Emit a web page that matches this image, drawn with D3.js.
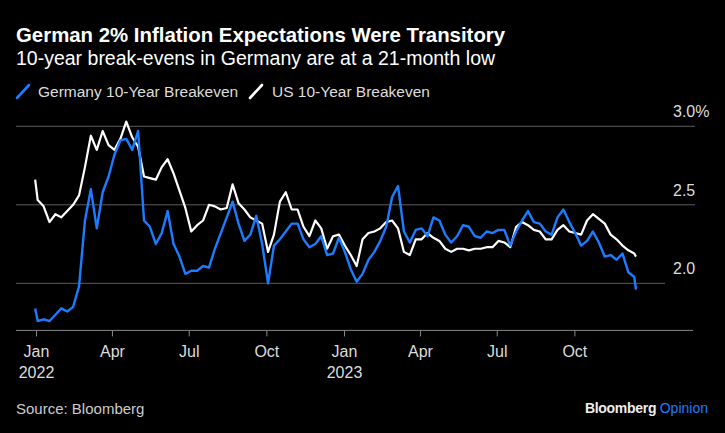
<!DOCTYPE html>
<html lang="en">
<head>
<meta charset="utf-8">
<title>German 2% Inflation Expectations Were Transitory</title>
<script src="https://cdn.jsdelivr.net/npm/d3@7"></script>
<style>
	html, body { margin: 0; padding: 0; background: #000; }
	svg { display: block; font-family: "Liberation Sans", Arial, sans-serif; }
</style>
</head>
<body>
<script>

// first and last trading days, weekly Mondays in between
var firstDay = "2021-12-31";
var lastDay = "2023-12-13";

var germany = [1.84, 1.76, 1.77, 1.76, 1.80, 1.84, 1.82, 1.85, 1.98, 2.40,
	2.60, 2.35, 2.58, 2.68, 2.82, 2.91, 2.92, 2.85, 2.97, 2.40,
	2.36, 2.25, 2.32, 2.46, 2.25, 2.17, 2.06, 2.08, 2.08, 2.11,
	2.10, 2.22, 2.32, 2.42, 2.52, 2.38, 2.27, 2.31, 2.43, 2.25,
	2.00, 2.24, 2.28, 2.33, 2.38, 2.38, 2.28, 2.23, 2.25, 2.30,
	2.18, 2.19, 2.29, 2.20, 2.09, 2.01, 2.06, 2.15, 2.20, 2.27,
	2.36, 2.55, 2.62, 2.33, 2.26, 2.34, 2.35, 2.30, 2.42, 2.40,
	2.31, 2.26, 2.30, 2.37, 2.36, 2.30, 2.29, 2.33, 2.32, 2.34,
	2.34, 2.24, 2.33, 2.40, 2.46, 2.39, 2.38, 2.33, 2.31, 2.42,
	2.47, 2.39, 2.32, 2.24, 2.27, 2.33, 2.26, 2.17, 2.18, 2.15,
	2.19, 2.07, 2.04, 1.96];

var us = [2.66, 2.53, 2.49, 2.39, 2.44, 2.42, 2.46, 2.50, 2.56, 2.74,
	2.94, 2.85, 2.97, 2.88, 2.85, 2.92, 3.03, 2.93, 2.87, 2.68,
	2.67, 2.66, 2.74, 2.79, 2.70, 2.59, 2.48, 2.33, 2.37, 2.40,
	2.50, 2.49, 2.47, 2.48, 2.63, 2.51, 2.47, 2.42, 2.40, 2.38,
	2.20, 2.31, 2.52, 2.58, 2.47, 2.47, 2.36, 2.30, 2.40, 2.35,
	2.22, 2.30, 2.31, 2.24, 2.18, 2.11, 2.28, 2.32, 2.33, 2.35,
	2.39, 2.40, 2.35, 2.20, 2.18, 2.28, 2.28, 2.32, 2.29, 2.27,
	2.22, 2.20, 2.22, 2.22, 2.21, 2.22, 2.22, 2.23, 2.23, 2.27,
	2.26, 2.23, 2.36, 2.39, 2.37, 2.34, 2.33, 2.28, 2.28, 2.34,
	2.37, 2.33, 2.32, 2.31, 2.40, 2.44, 2.41, 2.38, 2.31, 2.28,
	2.24, 2.21, 2.19, 2.17];

var yTicks = [2.0, 2.5, 3.0];
var yLabels = ["2.0", "2.5", "3.0%"];
var seriesNames = ["Germany 10-Year Breakeven", "US 10-Year Breakeven"];

var w = 725;
var h = 433;
var blue = "#1c7cff";

var parse = d3.timeParse("%Y-%m-%d");
var dates = [parse(firstDay)]
	.concat(d3.timeMonday.range(parse("2022-01-03"), parse("2023-12-12")))
	.concat([parse(lastDay)]);

var svg = d3.select("body")
	.append("svg")
	.attr("width", w)
	.attr("height", h);

svg.append("rect")
	.attr("width", w)
	.attr("height", h)
	.attr("fill", "#000");

// scales
var x = d3.scaleTime()
	.domain([parse("2022-01-01"), parse("2024-01-01")])
	.range([36, 652]);

var y = d3.scaleLinear()
	.domain([1.7, 3.0])
	.range([330.4, 126.3]);

// titles
svg.append("text")
	.attr("x", 16)
	.attr("y", 42)
	.attr("fill", "#fff")
	.attr("font-size", "20.4px")
	.attr("font-weight", "bold")
	.text("German 2% Inflation Expectations Were Transitory");

svg.append("text")
	.attr("x", 16)
	.attr("y", 65)
	.attr("fill", "#fff")
	.attr("font-size", "19.5px")
	.text("10-year break-evens in Germany are at a 21-month low");

// legend
var legendX = [16, 249];
var legendColors = [blue, "#fff"];
var legend = svg.selectAll("g.legend")
	.data(seriesNames)
	.enter()
	.append("g")
	.attr("class", "legend")
	.attr("transform", function(d, i){ return "translate(" + legendX[i] + ",0)"; });

legend.append("line")
	.attr("x1", 1).attr("y1", 98)
	.attr("x2", 13).attr("y2", 85)
	.attr("stroke", function(d, i){ return legendColors[i]; })
	.attr("stroke-width", 2.6)
	.attr("stroke-linecap", "round");

legend.append("text")
	.attr("x", function(d, i){ return i == 0 ? 22 : 23; })
	.attr("y", 97)
	.attr("fill", "#ddd")
	.attr("font-size", "15.5px")
	.text(function(d){ return d; });

// gridlines and y labels
svg.selectAll("line.grid")
	.data(yTicks)
	.enter()
	.append("line")
	.attr("class", "grid")
	.attr("x1", 16)
	.attr("x2", function(d){ return d == 2.0 ? 665 : 695; })
	.attr("y1", function(d){ return y(d); })
	.attr("y2", function(d){ return y(d); })
	.attr("stroke", "#5c5c5c")
	.attr("stroke-width", 1);

svg.selectAll("text.ylab")
	.data(yTicks)
	.enter()
	.append("text")
	.attr("class", "ylab")
	.attr("x", 673)
	.attr("y", function(d){ return y(d) - 9; })
	.attr("fill", "#ddd")
	.attr("font-size", "16px")
	.text(function(d, i){ return yLabels[i]; });

// x axis
var monthFmt = d3.timeFormat("%b");
var xAxis = d3.axisBottom(x)
	.tickValues(d3.timeMonth.every(3).range(parse("2022-01-01"), parse("2023-12-31")))
	.tickFormat(monthFmt)
	.tickSize(6)
	.tickPadding(9);

var gx = svg.append("g")
	.attr("transform", "translate(0," + y(1.7) + ")")
	.call(xAxis);

gx.select(".domain").remove();
gx.selectAll(".tick line").attr("stroke", "#888");
gx.selectAll(".tick text")
	.attr("fill", "#ddd")
	.attr("font-size", "16px")
	.attr("font-family", "Liberation Sans, Arial, sans-serif");

gx.selectAll(".tick")
	.filter(function(d){ return d.getMonth() == 0; })
	.append("text")
	.attr("y", 36)
	.attr("dy", "0.71em")
	.attr("fill", "#ddd")
	.attr("font-size", "16px")
	.attr("font-family", "Liberation Sans, Arial, sans-serif")
	.attr("text-anchor", "middle")
	.text(function(d){ return d.getFullYear(); });

svg.append("line")
	.attr("x1", 16)
	.attr("x2", 693)
	.attr("y1", y(1.7))
	.attr("y2", y(1.7))
	.attr("stroke", "#888")
	.attr("stroke-width", 1);

// lines
var line = d3.line()
	.x(function(d, i){ return x(dates[i]); })
	.y(function(d){ return y(d); });

svg.append("path")
	.datum(us)
	.attr("d", line)
	.attr("fill", "none")
	.attr("stroke", "#fff")
	.attr("stroke-width", 2.2)
	.attr("stroke-linejoin", "round");

svg.append("path")
	.datum(germany)
	.attr("d", line)
	.attr("fill", "none")
	.attr("stroke", blue)
	.attr("stroke-width", 2.4)
	.attr("stroke-linejoin", "round");

// footer
svg.append("text")
	.attr("x", 16)
	.attr("y", 414)
	.attr("fill", "#ccc")
	.attr("font-size", "15px")
	.text("Source: Bloomberg");

var brand = svg.append("text")
	.attr("x", 708)
	.attr("y", 413)
	.attr("text-anchor", "end")
	.attr("font-size", "14px");

brand.append("tspan")
	.attr("fill", "#eee")
	.attr("font-weight", "bold")
	.attr("letter-spacing", "-0.3px")
	.text("Bloomberg ");

brand.append("tspan")
	.attr("fill", blue)
	.text("Opinion");

</script>
</body>
</html>
